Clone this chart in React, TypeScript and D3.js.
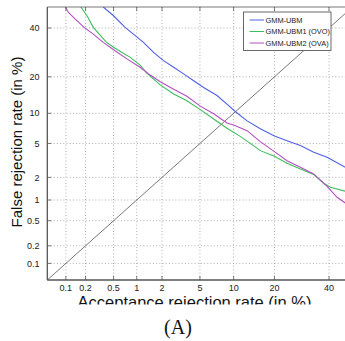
import * as d3 from "d3";
import React, { useEffect, useRef } from "react";

// DET plot, both axes on a normal deviate (probit) scale, values in %
const tickValues = [0.1, 0.2, 0.5, 1, 2, 5, 10, 20, 40];
const seriesNames = ["GMM-UBM", "GMM-UBM1 (OVO)", "GMM-UBM2 (OVA)"];
const seriesColors = ["#5060e4", "#3dbd5c", "#b44fc2"];

const ubmFA = [0.36, 0.5, 0.71, 0.91, 1.21, 1.6, 2.08, 2.69, 3.43, 4.34, 5.42, 7.2, 8.8, 10.3, 12.8, 16.0, 20, 24, 28.7, 33.8, 39.2, 46.9, 50];
const ubmFR = [50, 45.8, 40.3, 37.2, 33.5, 29.2, 25.9, 23.4, 21.0, 18.7, 16.6, 14.3, 12.1, 10.4, 8.5, 7.1, 6.0, 5.36, 4.74, 4.0, 3.5, 2.67, 2.4];

const ovoFA = [0.17, 0.21, 0.26, 0.33, 0.4, 0.5, 0.64, 0.83, 1.1, 1.33, 1.91, 2.69, 3.71, 5.04, 6.72, 8.8, 11.3, 14.3, 16.0, 20, 24, 28.7, 33.8, 37.8, 40.6, 46.9, 50];
const ovoFR = [50, 45.8, 40.3, 36.5, 33.5, 31.4, 29.3, 27.2, 24.2, 21.3, 17.4, 14.7, 12.9, 10.8, 8.85, 7.2, 5.95, 4.74, 4.17, 3.6, 2.98, 2.55, 2.17, 1.68, 1.49, 1.32, 1.25];

const ovaFA = [0.098, 0.11, 0.14, 0.19, 0.26, 0.36, 0.5, 0.75, 1.1, 1.46, 1.91, 2.69, 3.71, 5.04, 6.72, 8.8, 10, 12.8, 16.0, 20, 24, 28.7, 33.8, 39.2, 43.4, 46.9, 50];
const ovaFR = [50, 47.4, 44.2, 40.3, 37.2, 33.5, 30.3, 26.6, 23.4, 20.6, 18.4, 16.1, 14.1, 11.6, 9.9, 8.1, 7.75, 6.8, 5.23, 4.07, 3.2, 2.67, 2.21, 1.53, 1.09, 0.91, 0.8];

const axisMin = 0.05;
const axisMax = 50;

// inverse normal cdf (Acklam)
function probit(p: number) {
  const a = [-39.69683028665376, 220.9460984245205, -275.9285104469687, 138.357751867269, -30.66479806614716, 2.506628277459239];
  const b = [-54.47609879822406, 161.5858368580409, -155.6989798598866, 66.80131188771972, -13.28068155288572];
  const c = [-0.007784894002430293, -0.3223964580411365, -2.400758277161838, -2.549732539343734, 4.374664141464968, 2.938163982698783];
  const d = [0.007784695709041462, 0.3224671290700398, 2.445134137142996, 3.754408661907416];
  const pl = 0.02425;
  if (p < pl) {
    const q = Math.sqrt(-2 * Math.log(p));
    return (((((c[0] * q + c[1]) * q + c[2]) * q + c[3]) * q + c[4]) * q + c[5]) / ((((d[0] * q + d[1]) * q + d[2]) * q + d[3]) * q + 1);
  }
  if (p <= 1 - pl) {
    const q = p - 0.5;
    const r = q * q;
    return ((((((a[0] * r + a[1]) * r + a[2]) * r + a[3]) * r + a[4]) * r + a[5]) * q) / (((((b[0] * r + b[1]) * r + b[2]) * r + b[3]) * r + b[4]) * r + 1);
  }
  const q = Math.sqrt(-2 * Math.log(1 - p));
  return -(((((c[0] * q + c[1]) * q + c[2]) * q + c[3]) * q + c[4]) * q + c[5]) / ((((d[0] * q + d[1]) * q + d[2]) * q + d[3]) * q + 1);
}

export default function App() {
  const svgRef = useRef<SVGSVGElement>(null);
  const width = 345;
  const height = 341;
  const plot = { left: 47.3, right: 352.5, top: 7, bottom: 280 };

  useEffect(() => {
    const svg = d3.select(svgRef.current);
    svg.selectAll("*").remove();

    const xLin = d3.scaleLinear().domain([probit(axisMin / 100), probit(axisMax / 100)]).range([plot.left, plot.right]);
    const yLin = d3.scaleLinear().domain([probit(axisMin / 100), probit(axisMax / 100)]).range([plot.bottom, plot.top]);
    const x = (v: number) => xLin(probit(v / 100));
    const y = (v: number) => yLin(probit(v / 100));

    const defs = svg.append("defs");
    defs.append("clipPath").attr("id", "plotClip")
      .append("rect")
      .attr("x", plot.left).attr("y", plot.top)
      .attr("width", plot.right - plot.left).attr("height", plot.bottom - plot.top);
    defs.append("clipPath").attr("id", "titleClip")
      .append("rect").attr("x", 0).attr("y", 280).attr("width", width).attr("height", 24.5);

    svg.append("rect").attr("width", width).attr("height", height).attr("fill", "white");

    // grid
    const grid = svg.append("g").attr("stroke", "#9a9a9a").attr("stroke-width", 0.8).attr("stroke-dasharray", "1,2.2");
    tickValues.forEach((t) => {
      grid.append("line").attr("x1", x(t)).attr("x2", x(t)).attr("y1", plot.top).attr("y2", plot.bottom);
      grid.append("line").attr("x1", plot.left).attr("x2", plot.right).attr("y1", y(t)).attr("y2", y(t));
    });

    // diagonal EER line
    svg.append("line")
      .attr("x1", x(axisMin)).attr("y1", y(axisMin))
      .attr("x2", x(axisMax)).attr("y2", y(axisMax))
      .attr("stroke", "#555").attr("stroke-width", 0.8);

    const series = [
      { fa: ubmFA, fr: ubmFR },
      { fa: ovoFA, fr: ovoFR },
      { fa: ovaFA, fr: ovaFR },
    ];
    const line = d3.line<[number, number]>().x((d) => x(d[0])).y((d) => y(d[1]));
    const curves = svg.append("g").attr("clip-path", "url(#plotClip)");
    series.forEach((s, i) => {
      const pts = s.fa.map((v, j) => [v, s.fr[j]] as [number, number]);
      curves.append("path")
        .datum(pts)
        .attr("fill", "none")
        .attr("stroke", seriesColors[i])
        .attr("stroke-width", 1.1)
        .attr("d", line);
    });

    // frame and ticks
    const frame = svg.append("g").attr("stroke", "#555").attr("fill", "none");
    frame.append("line").attr("x1", plot.left).attr("x2", plot.left).attr("y1", plot.top).attr("y2", plot.bottom).attr("stroke-width", 1.3);
    frame.append("line").attr("x1", plot.left).attr("x2", plot.right).attr("y1", plot.bottom).attr("y2", plot.bottom).attr("stroke-width", 1.3);
    frame.append("line").attr("x1", plot.left).attr("x2", plot.right).attr("y1", plot.top).attr("y2", plot.top).attr("stroke-width", 0.8);
    tickValues.forEach((t) => {
      frame.append("line").attr("x1", x(t)).attr("x2", x(t)).attr("y1", plot.bottom).attr("y2", plot.bottom - 4).attr("stroke-width", 0.8);
      frame.append("line").attr("x1", x(t)).attr("x2", x(t)).attr("y1", plot.top).attr("y2", plot.top + 4).attr("stroke-width", 0.8);
      frame.append("line").attr("x1", plot.left).attr("x2", plot.left + 4).attr("y1", y(t)).attr("y2", y(t)).attr("stroke-width", 0.8);
    });

    // tick labels
    const font = "'Liberation Sans', Arial, sans-serif";
    svg.append("g").selectAll("text").data(tickValues).join("text")
      .attr("x", (d) => x(d)).attr("y", 291)
      .attr("text-anchor", "middle")
      .attr("font-family", font).attr("font-size", 9).attr("fill", "#222")
      .text((d) => String(d));
    svg.append("g").selectAll("text").data(tickValues).join("text")
      .attr("x", 39.5).attr("y", (d) => y(d)).attr("dy", "0.35em")
      .attr("text-anchor", "end")
      .attr("font-family", font).attr("font-size", 9).attr("fill", "#222")
      .text((d) => String(d));

    // axis titles
    svg.append("text")
      .attr("transform", "translate(22,142) rotate(-90)")
      .attr("text-anchor", "middle")
      .attr("font-family", font).attr("font-size", 15).attr("fill", "#111")
      .text("False rejection rate (in %)");
    svg.append("text")
      .attr("clip-path", "url(#titleClip)")
      .attr("x", 194.5).attr("y", 307.5)
      .attr("text-anchor", "middle")
      .attr("font-family", font).attr("font-size", 16.5).attr("fill", "#111")
      .text("Acceptance rejection rate (in %)");

    // caption
    svg.append("text")
      .attr("x", 178).attr("y", 334)
      .attr("text-anchor", "middle")
      .attr("font-family", "'Liberation Serif', 'Times New Roman', serif").attr("font-size", 20).attr("fill", "#111")
      .text("(A)");

    // legend
    const leg = svg.append("g");
    leg.append("rect").attr("x", 243.5).attr("y", 12).attr("width", 87.5).attr("height", 38.5)
      .attr("fill", "white").attr("stroke", "#444").attr("stroke-width", 0.8);
    seriesNames.forEach((name, i) => {
      const ly = 20 + i * 11.5;
      leg.append("line").attr("x1", 249.5).attr("x2", 264).attr("y1", ly).attr("y2", ly)
        .attr("stroke", seriesColors[i]).attr("stroke-width", 1);
      leg.append("text").attr("x", 265.5).attr("y", ly).attr("dy", "0.35em")
        .attr("font-family", font).attr("font-size", 7.4).attr("fill", "#222")
        .text(name);
    });
  }, []);

  return (
    <div style={{ position: "absolute", left: 0, top: 0 }}>
      <svg width={width} height={height} ref={svgRef} style={{ display: "block" }}></svg>
    </div>
  );
}
